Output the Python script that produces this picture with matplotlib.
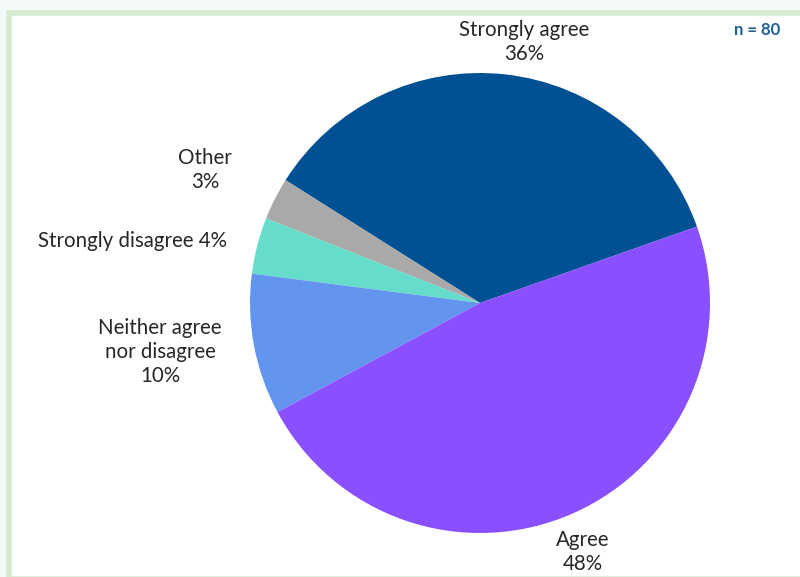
import matplotlib.pyplot as plt
from matplotlib.patches import Rectangle

# survey answers, counterclockwise from the first wedge
labels = ['Strongly agree', 'Other', 'Strongly disagree', 'Neither agree\nnor disagree', 'Agree']
shares = [36, 3, 4, 10, 48]
colors = ['#005193', '#a9a9a9', '#66dcca', '#6495ee', '#8a50ff']
label_text = ['Strongly agree\n36%', 'Other\n3%', 'Strongly disagree 4%',
              'Neither agree\nnor disagree\n10%', 'Agree\n48%']
label_pos = [(524, 42), (205, 170), (132, 241), (160, 352), (583, 552)]

W, H = 800, 577
fig = plt.figure(figsize=(W / 100, H / 100), dpi=100)
fig.patch.set_facecolor('#f3f9f9')

# white card with a light green frame (bottom and right run off the image)
fig.patches.append(Rectangle((9 / W, -0.0035), 1.0, (H - 11) / H + 0.0035 - 0.003,
                             transform=fig.transFigure, facecolor='white',
                             edgecolor='#d7e9d1', linewidth=4, zorder=-5))

cx, cy, r = 480, 303, 230
ax = fig.add_axes([(cx - r) / W, (H - cy - r) / H, 2 * r / W, 2 * r / H], zorder=2)
ax.patch.set_alpha(0)
ax.pie(shares, colors=colors, startangle=19.4, counterclock=True,
       wedgeprops=dict(linewidth=0))
ax.set_xlim(-1, 1)
ax.set_ylim(-1, 1)
ax.set_aspect('equal')
ax.axis('off')

for txt, (x, y) in zip(label_text, label_pos):
    fig.text(x / W, 1 - y / H, txt, ha='center', va='center', fontsize=14.8,
             color='#262626', family='Lato', linespacing=1.25, zorder=3)

fig.text(757 / W, 1 - 30 / H, 'n = 80', ha='center', va='center', fontsize=12,
         fontweight='bold', color='#1f5e99', family='Lato', zorder=3)

fig.savefig('out.png', dpi=100, facecolor=fig.get_facecolor())
